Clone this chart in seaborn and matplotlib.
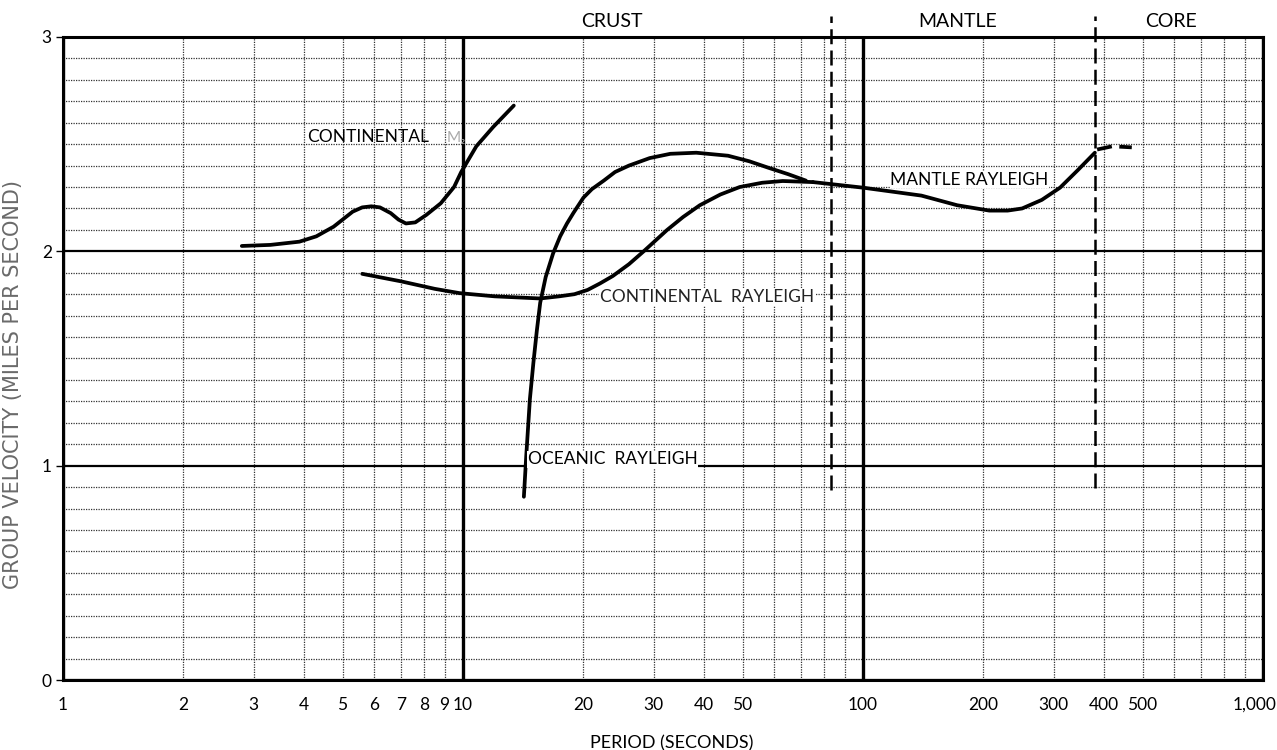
import numpy as np
import pandas as pd
import matplotlib
matplotlib.use("Agg")
import matplotlib.pyplot as plt
import matplotlib.transforms as mtransforms
import seaborn as sns
from matplotlib.ticker import FixedLocator, FixedFormatter, LogLocator, MultipleLocator, NullFormatter

# ---------------- data ----------------
cont_m2_period = [2.8, 3.3, 3.9, 4.3, 4.75, 5.3, 5.6, 5.9, 6.2, 6.6, 6.9, 7.2, 7.6, 8.1, 8.8, 9.5, 9.9, 10.8, 11.9, 13.4]
cont_m2_vel = [2.025, 2.03, 2.045, 2.07, 2.115, 2.185, 2.205, 2.21, 2.205, 2.178, 2.148, 2.13, 2.135, 2.17, 2.224, 2.30, 2.37, 2.49, 2.58, 2.68]

cont_ray_period = [5.6, 7.0, 8.5, 9.8, 12, 15.6, 17.4, 19, 20.5, 22, 23.7, 26, 28.3, 32.4, 35.5, 39.1, 44, 49.2, 56, 63, 75]
cont_ray_vel = [1.895, 1.86, 1.825, 1.805, 1.79, 1.78, 1.79, 1.80, 1.82, 1.85, 1.885, 1.94, 2.0, 2.1, 2.16, 2.215, 2.265, 2.30, 2.32, 2.328, 2.323]

ocean_period = [14.2, 14.4, 14.7, 15.0, 15.3, 15.6, 16.1, 16.8, 17.5, 18.2, 18.9, 20, 21, 22.5, 24, 26, 29.3, 33, 38.3, 46, 52, 58, 65, 72]
ocean_vel = [0.855, 1.05, 1.31, 1.48, 1.63, 1.76, 1.88, 1.99, 2.07, 2.13, 2.18, 2.25, 2.29, 2.33, 2.37, 2.40, 2.435, 2.455, 2.46, 2.446, 2.42, 2.39, 2.36, 2.33]

mantle_period = [75, 100, 140, 172, 207, 230, 250, 280, 311, 345, 380]
mantle_vel = [2.323, 2.297, 2.26, 2.215, 2.19, 2.19, 2.2, 2.24, 2.297, 2.38, 2.46]

core_period = [385, 420, 470]
core_vel = [2.475, 2.49, 2.485]

boundary_period = [83, 380]          # dashed region boundaries
boundary_bottom = [0.887, 0.896]

region_names = ["CRUST", "MANTLE", "CORE"]
region_centers = [23.5, 172, 590]

xtick_values = [1, 2, 3, 4, 5, 6, 7, 8, 9, 10, 20, 30, 40, 50, 100, 200, 300, 400, 500, 1000]
xtick_labels = ["1", "2", "3", "4", "5", "6", "7", "8", "9", "10", "20", "30", "40", "50",
                "100", "200", "300", "400", "500", "1,000"]
ytick_values = [0, 1, 2, 3]
ytick_labels = ["0", "1", "2", "3"]

# ---------------- style ----------------
sns.set_theme(style="white")
plt.rcParams['font.family'] = ['Lato', 'DejaVu Sans']

fig = plt.figure(figsize=(12.77, 7.5), dpi=100)
ax = fig.add_axes([0.0493, 0.0933, 0.9397, 0.8574])

ax.set_xscale("log")
ax.set_xlim(1, 1000)
ax.set_ylim(0, 3)

ax.xaxis.set_major_locator(FixedLocator(xtick_values))
ax.xaxis.set_major_formatter(FixedFormatter(xtick_labels))
ax.xaxis.set_minor_locator(LogLocator(base=10, subs=np.arange(1, 10), numticks=20))
ax.xaxis.set_minor_formatter(NullFormatter())
ax.yaxis.set_major_locator(FixedLocator(ytick_values))
ax.yaxis.set_major_formatter(FixedFormatter(ytick_labels))
ax.yaxis.set_minor_locator(MultipleLocator(0.1))

grid_kw = dict(color="#333333", lw=0.9, ls=(0, (1, 1)))
ax.grid(False)
ax.grid(which="minor", axis="x", **grid_kw)
ax.grid(which="major", axis="x", **grid_kw)
ax.grid(which="minor", axis="y", **grid_kw)
ax.grid(which="major", axis="y", color="black", lw=1.6, ls="-")
for dec in [1, 10, 100, 1000]:
    ax.axvline(dec, color="black", lw=2.4, zorder=1.5)

for s in ax.spines.values():
    s.set_color("black")
    s.set_linewidth(2.2)

ax.tick_params(axis="x", which="both", length=0, pad=12, labelsize=12.5, colors="black")
ax.tick_params(axis="y", which="major", length=5, width=1, pad=3, labelsize=12.5, colors="black", left=True)
ax.tick_params(axis="y", which="minor", length=0)

# shift the "1,000" label slightly left so it stays inside the figure
lbls = ax.get_xticklabels()
lbls[-1].set_transform(lbls[-1].get_transform() +
                       mtransforms.ScaledTranslation(-8 / 100, 0, fig.dpi_scale_trans))

# ---------------- curves ----------------
lw = 2.7
def draw(px, vy):
    df = pd.DataFrame({"period": px, "velocity": vy})
    sns.lineplot(data=df, x="period", y="velocity", ax=ax, color="black", lw=lw,
                 estimator=None, sort=False, legend=False, zorder=3)
    ln = ax.lines[-1]
    ln.set_solid_joinstyle("round")
    ln.set_solid_capstyle("round")
    return ln

draw(cont_m2_period, cont_m2_vel)
draw(cont_ray_period, cont_ray_vel)
draw(ocean_period, ocean_vel)
draw(mantle_period, mantle_vel)
core_line = draw(core_period, core_vel)
core_line.set_linestyle((0, (4, 2)))

# dashed boundaries
for bx, by in zip(boundary_period, boundary_bottom):
    ax.plot([bx, bx], [by, 3.1], color="black", lw=1.8, ls=(0, (6, 2.5)), clip_on=False, zorder=4)

# ---------------- texts ----------------
xa = ax.get_xaxis_transform()
for name, cx in zip(region_names, region_centers):
    ax.text(cx, 1.024, name, transform=xa, ha="center", va="center", fontsize=14, color="black")

ax.text(4.07, 2.534, "CONTINENTAL", fontsize=12.5, color="black", va="center", ha="left", zorder=5)
ax.text(9.1, 2.53, "M\u2082", fontsize=11, color="#aaaaaa", va="center", ha="left", zorder=5)
ax.text(22.0, 1.787, "CONTINENTAL  RAYLEIGH", fontsize=12.5, color="#222222", va="center", ha="left", zorder=5,
        bbox=dict(facecolor="white", edgecolor="none", pad=0.5))
ax.text(117, 2.335, "MANTLE RAYLEIGH", fontsize=12.5, color="black", va="center", ha="left", zorder=5,
        bbox=dict(facecolor="white", edgecolor="none", pad=0.5))
ax.text(14.5, 1.03, "OCEANIC  RAYLEIGH", fontsize=12.5, color="black", va="center", ha="left", zorder=5,
        bbox=dict(facecolor="white", edgecolor="none", pad=0.5))

ax.set_xlabel("PERIOD (SECONDS)", fontsize=13, color="black")
ax.xaxis.set_label_coords(0.5075, -0.086)
ax.set_ylabel("GROUP VELOCITY (MILES PER SECOND)", fontsize=15, color="#6a6a6a",
              family=["DejaVu Sans"])
ax.yaxis.set_label_coords(-0.033, 0.46)

fig.savefig("out.png", dpi=100, facecolor="white")
